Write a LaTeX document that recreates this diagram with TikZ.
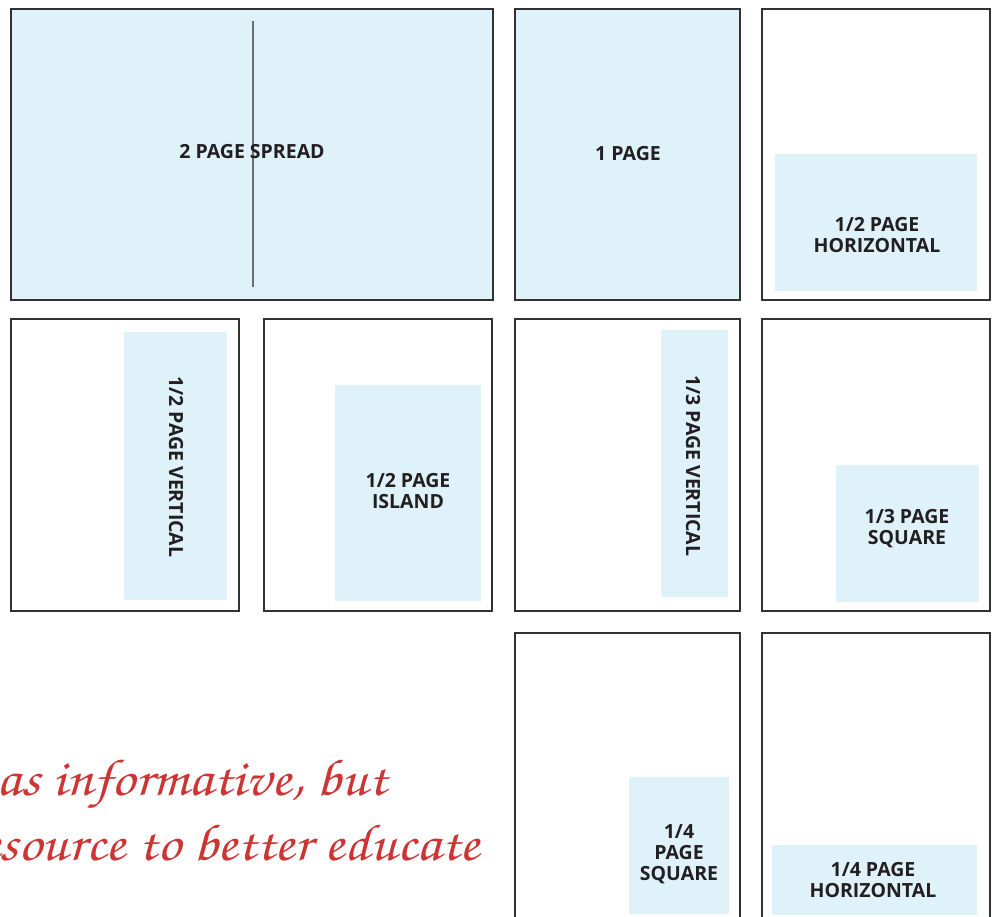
\documentclass[tikz,border=0pt]{standalone}
\usepackage{fontspec}
\usepackage[T1,TU]{fontenc}
\setsansfont{Open Sans}
\newcommand\handwriting{\fontencoding{T1}\fontfamily{pzc}\fontseries{mb}\fontshape{it}\selectfont}

\definecolor{adblue}{RGB}{223,242,250}
\definecolor{framegray}{RGB}{50,50,50}
\definecolor{foldgray}{RGB}{110,110,110}
\definecolor{ink}{RGB}{35,31,32}
\definecolor{scriptred}{RGB}{205,52,52}

\tikzset{
  page/.style={draw=framegray, line width=1.2pt, inner sep=0pt, outer sep=0pt},
  fullpage/.style={page, fill=adblue},
  adblock/.style={fill=adblue, draw=none, inner sep=0pt, outer sep=0pt},
  adlabel/.style={font=\sffamily\bfseries\fontsize{19.5}{21}\selectfont,
    text=ink, align=center, inner sep=0pt},
  foldline/.style={draw=foldgray, line width=1.4pt},
  notetext/.style={font=\handwriting\fontsize{52}{58}\selectfont,
    text=scriptred, inner sep=0pt, xscale=1.12}
}

\begin{document}
\begin{tikzpicture}[x=1pt,y=-1pt]
\useasboundingbox (0,0) rectangle (997,917);
\begin{scope}
\clip (0,0) rectangle (997,917);

% row 1
\node[fullpage, minimum width=482pt, minimum height=291pt] (spread) at (252,154.5) {};
\coordinate (foldtop) at (253,21);
\coordinate (foldbot) at (253,287);
\draw[foldline] (foldtop) -- (foldbot);
\node[adlabel] (spreadlbl) at (252,152) {2 PAGE SPREAD};

\node[fullpage, minimum width=225pt, minimum height=291pt] (onepage) at (627.5,154.5) {};
\node[adlabel] (onelbl) at (628,154) {1 PAGE};

\node[page, minimum width=228pt, minimum height=291pt] (halfhpage) at (876,154.5) {};
\node[adblock, minimum width=202pt, minimum height=137pt] (halfh) at (876,222.5) {};
\node[adlabel] (halfhlbl) at (877,235.5) {1/2 PAGE\\HORIZONTAL};

% row 2
\node[page, minimum width=228pt, minimum height=292pt] (halfvpage) at (125,465) {};
\node[adblock, minimum width=103pt, minimum height=268pt] (halfv) at (175.5,466) {};
\node[adlabel, rotate=-90] (halfvlbl) at (176,467) {1/2 PAGE VERTICAL};

\node[page, minimum width=228pt, minimum height=292pt] (islandpage) at (378,465) {};
\node[adblock, minimum width=146pt, minimum height=216pt] (island) at (408,493) {};
\node[adlabel] (islandlbl) at (408,491) {1/2 PAGE\\ISLAND};

\node[page, minimum width=225pt, minimum height=292pt] (thirdvpage) at (627.5,465) {};
\node[adblock, minimum width=67pt, minimum height=267pt] (thirdv) at (694.5,463.5) {};
\node[adlabel, rotate=-90] (thirdvlbl) at (693,466) {1/3 PAGE VERTICAL};

\node[page, minimum width=228pt, minimum height=292pt] (thirdsqpage) at (876,465) {};
\node[adblock, minimum width=143pt, minimum height=137pt] (thirdsq) at (907.5,533.5) {};
\node[adlabel] (thirdsqlbl) at (907,529) {1/3 PAGE\\SQUARE};

% row 3
\node[page, minimum width=225pt, minimum height=292pt] (quarsqpage) at (627.5,779) {};
\node[adblock, minimum width=100pt, minimum height=137pt] (quarsq) at (679,845.5) {};
\node[adlabel] (quarsqlbl) at (679,854) {1/4\\PAGE\\SQUARE};

\node[page, minimum width=228pt, minimum height=292pt] (quarhpage) at (876,779) {};
\node[adblock, minimum width=205pt, minimum height=70pt] (quarh) at (874.5,880) {};
\node[adlabel] (quarhlbl) at (873,880) {1/4 PAGE\\HORIZONTAL};

% handwritten note
\node[notetext, anchor=base east] (noteA) at (387,795) {as informative, but};
\node[notetext, anchor=base east] (noteB) at (480,860) {esource to better educate};
\end{scope}
\end{tikzpicture}
\end{document}
